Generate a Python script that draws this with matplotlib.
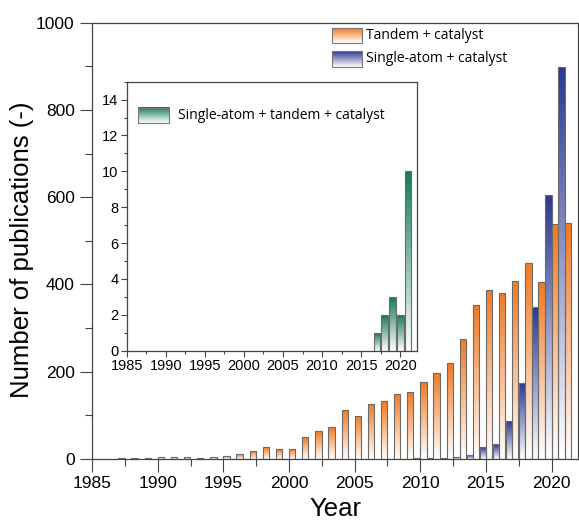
import numpy as np
import matplotlib
matplotlib.use("Agg")
import matplotlib.pyplot as plt
from matplotlib.colors import LinearSegmentedColormap
from matplotlib.ticker import MultipleLocator

# publications per year
tandem_years = list(range(1987, 2022))
tandem_counts = [1, 2, 1, 5, 5, 4, 2, 5, 6, 11, 18, 26, 22, 22, 50, 63, 72, 112,
                 99, 125, 132, 148, 152, 177, 197, 219, 274, 352, 388, 379, 407,
                 448, 405, 538, 541]
single_years = list(range(2010, 2022))
single_counts = [1, 2, 1, 5, 9, 26, 34, 86, 174, 347, 604, 898]
triple_years = [2017, 2018, 2019, 2020, 2021]
triple_counts = [1, 2, 3, 2, 10]

labels = ["Tandem + catalyst", "Single-atom + catalyst", "Single-atom + tandem + catalyst"]
ORANGE = "#F27A22"
BLUE = "#2C3A92"
GREEN = "#167C58"

plt.rcParams["font.family"] = ["Liberation Sans", "DejaVu Sans"]
LEG_FONT = "Open Sans"


def grad_cmap(color):
    return LinearSegmentedColormap.from_list("g", ["white", color])


def gradient_bars(ax, x, heights, width, color, align="edge"):
    bars = ax.bar(x, heights, width=width, align=align, facecolor="none",
                  edgecolor="#6a6a6a", linewidth=0.8, zorder=3)
    cmap = grad_cmap(color)
    grad = np.linspace(1, 0, 64).reshape(-1, 1)
    for b in bars:
        x0, y0 = b.get_x(), b.get_y()
        w, h = b.get_width(), b.get_height()
        if h <= 0:
            continue
        im = ax.imshow(grad, cmap=cmap, vmin=0, vmax=1, aspect="auto",
                       extent=(x0, x0 + w, y0, y0 + h), zorder=2,
                       interpolation="bilinear")
        im.set_clip_path(b)
    return bars


def legend_patch(ax, x0, x1, y0, y1, color):
    grad = np.linspace(1, 0, 64).reshape(-1, 1)
    ax.imshow(grad, cmap=grad_cmap(color), vmin=0, vmax=1, aspect="auto",
              extent=(x0, x1, y0, y1), transform=ax.transAxes, zorder=5,
              interpolation="bilinear")
    ax.add_patch(plt.Rectangle((x0, y0), x1 - x0, y1 - y0, transform=ax.transAxes,
                               facecolor="none", edgecolor="#777777", lw=0.8, zorder=6))


fig = plt.figure(figsize=(5.79, 5.24), dpi=100)
ax = fig.add_axes([0.159, 0.1246, 0.839, 0.832])

bw = 0.48
gradient_bars(ax, np.array(single_years) - bw, single_counts, bw, BLUE)
gradient_bars(ax, np.array(tandem_years), tandem_counts, bw, ORANGE)

ax.set_xlim(1985, 2022)
ax.set_ylim(0, 1000)
ax.xaxis.set_major_locator(MultipleLocator(5))
ax.xaxis.set_minor_locator(MultipleLocator(2.5))
ax.yaxis.set_major_locator(MultipleLocator(200))
ax.yaxis.set_minor_locator(MultipleLocator(100))
ax.tick_params(which="both", direction="out", top=False, right=False,
               labelsize=12.5, color="#444444")
ax.tick_params(which="major", length=9, width=0.8)
ax.tick_params(which="minor", length=5, width=0.8)
for s in ax.spines.values():
    s.set_color("#444444")
    s.set_linewidth(0.9)
ax.set_xlabel("Year", fontsize=18.5, labelpad=4)
ax.set_ylabel("Number of publications (-)", fontsize=18.5)
ax.yaxis.set_label_coords(-0.12, 0.48)

legend_patch(ax, 0.493, 0.556, 0.9534, 0.9878, ORANGE)
legend_patch(ax, 0.493, 0.556, 0.8995, 0.9346, BLUE)
ax.text(0.564, 0.9706, labels[0], transform=ax.transAxes, va="center",
        fontsize=10, family=LEG_FONT, zorder=6)
ax.text(0.564, 0.917, labels[1], transform=ax.transAxes, va="center",
        fontsize=10, family=LEG_FONT, zorder=6)

# inset
ins = fig.add_axes([0.2188, 0.3307, 0.5009, 0.5134])
ins.set_facecolor("white")
gradient_bars(ins, triple_years, triple_counts, 0.85, GREEN, align="center")
ins.set_xlim(1985, 2022.1)
ins.set_ylim(0, 15)
ins.xaxis.set_major_locator(MultipleLocator(5))
ins.xaxis.set_minor_locator(MultipleLocator(2.5))
ins.yaxis.set_major_locator(MultipleLocator(2))
ins.yaxis.set_minor_locator(MultipleLocator(1))
ins.tick_params(which="both", direction="out", top=False, right=False,
                labelsize=10.5, color="#444444", pad=2)
ins.tick_params(which="major", length=4, width=0.8)
ins.tick_params(which="minor", length=2.5, width=0.8)
for s in ins.spines.values():
    s.set_color("#444444")
    s.set_linewidth(0.9)
legend_patch(ins, 0.038, 0.145, 0.845, 0.901, GREEN)
ins.text(0.176, 0.873, labels[2], transform=ins.transAxes, va="center",
         fontsize=10, family=LEG_FONT, zorder=6)

fig.savefig("out.png", dpi=100)
